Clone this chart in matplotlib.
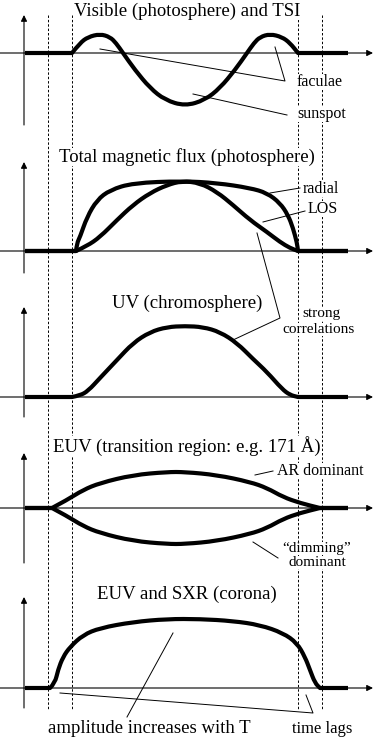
import matplotlib.pyplot as plt
from matplotlib.path import Path
from matplotlib.patches import PathPatch

plt.rcParams['font.family'] = ['Liberation Serif', 'DejaVu Serif']

# time coordinate shared by all panels; amplitude above each panel's zero line
vis_t = [72, 80, 88, 100, 110, 116, 123, 135, 150, 165, 185, 205, 220, 235, 247, 254, 260, 270, 282, 290, 298]
vis_a = [0, 10, 16, 19, 16, 10, 0, -17, -35, -47, -53, -47, -35, -17, 0, 10, 16, 19, 16, 10, 0]

radial_t = [76, 77, 80, 87, 97, 110, 133, 182, 217, 250, 267, 280, 288, 293, 297, 298]
radial_a = [0, 8, 14, 34, 51, 61, 68, 70, 68, 63, 58, 48, 36, 23, 8, 0]
los_t = [76, 87, 100, 117, 133, 150, 167, 182, 200, 217, 233, 250, 267, 280, 290, 298]
los_a = [0, 5, 14, 31, 46, 58, 66, 70, 68, 59, 46, 31, 19, 9, 3, 0]

uv_t = [72, 80, 88, 100, 117, 133, 150, 167, 185, 203, 220, 237, 253, 267, 282, 290, 298]
uv_a = [0, 1.5, 6, 19, 37, 54, 65, 70, 71, 70, 65, 54, 38, 25, 8, 2, 0]

tr_t = [52, 67, 83, 100, 133, 167, 185, 217, 250, 267, 283, 300, 320]
tr_a = [0, 8, 18, 25, 33, 36, 36, 33, 26, 20, 11, 5, 0]

cor_t = [50, 55, 58, 63, 70, 83, 100, 133, 167, 200, 233, 260, 283, 297, 305, 310, 315, 320]
cor_a = [0, 5, 18, 31, 41, 53, 60, 66, 69, 69, 67, 63, 55, 45, 31, 18, 5, 0]

titles = ['Visible (photosphere) and TSI',
          'Total magnetic flux (photosphere)',
          'UV (chromosphere)',
          'EUV (transition region: e.g. 171 Å)',
          'EUV and SXR (corona)']

# panel layout (pixels)
zero_y = [53, 251, 397, 508, 688]
axis_top = [15, 162, 307, 453, 597]
axis_bot = [125, 273, 417, 563, 708]
title_y = [15.5, 162, 308, 452, 599]
dash_x = [48, 72, 298, 322]
t_start, t_end = 25, 348

fig = plt.figure(figsize=(3.74, 7.42), dpi=100)
ax = fig.add_axes([0, 0, 1, 1])
ax.set_xlim(0, 374)
ax.set_ylim(742, 0)
ax.axis('off')

box = dict(facecolor='white', edgecolor='none', pad=0)

for x in dash_x:
    ax.plot([x, x], [15, 709], color='black', lw=0.7, ls=(0, (2.5, 2)), zorder=0)

for i in range(5):
    y0 = zero_y[i]
    ax.annotate('', xy=(373, y0), xytext=(0, y0),
                arrowprops=dict(arrowstyle='-|>', lw=0.8, color='black',
                                mutation_scale=9, shrinkA=0, shrinkB=0), zorder=1)
    ax.annotate('', xy=(24, axis_top[i]), xytext=(24, axis_bot[i]),
                arrowprops=dict(arrowstyle='-|>', lw=0.8, color='black',
                                mutation_scale=9, shrinkA=0, shrinkB=0), zorder=1)
    ax.text(187, title_y[i], titles[i], ha='center', va='baseline', fontsize=13.5,
            bbox=box, zorder=2)


def curve(t, a, y0, sign=1):
    # thick zero line, then the read points joined by smooth quadratic pieces
    pts = [(x, y0 - sign * v) for x, v in zip(t, a)]
    verts = [(t_start, y0), pts[0]]
    codes = [Path.MOVETO, Path.LINETO]
    for k in range(1, len(pts) - 1):
        mid = ((pts[k][0] + pts[k + 1][0]) / 2, (pts[k][1] + pts[k + 1][1]) / 2)
        verts += [pts[k], mid]
        codes += [Path.CURVE3, Path.CURVE3]
    verts += [pts[-1], (t_end, y0)]
    codes += [Path.LINETO, Path.LINETO]
    ax.add_patch(PathPatch(Path(verts, codes), facecolor='none', edgecolor='black',
                           lw=3.0, joinstyle='round', capstyle='butt', zorder=3))


curve(vis_t, vis_a, zero_y[0])
curve(radial_t, radial_a, zero_y[1])
curve(los_t, los_a, zero_y[1])
curve(uv_t, uv_a, zero_y[2])
curve(tr_t, tr_a, zero_y[3])
curve(tr_t, tr_a, zero_y[3], sign=-1)
curve(cor_t, cor_a, zero_y[4])


def leader(xs, ys):
    ax.plot(xs, ys, color='black', lw=0.7, zorder=4)


def label(x, y, s, ha='left', size=11.5):
    ax.text(x, y, s, ha=ha, va='baseline', fontsize=size, bbox=box, zorder=2)


leader([100, 285, 275], [49, 81, 47])
label(297, 86, 'faculae')
leader([193, 287], [94, 115])
label(297, 118, 'sunspot')

leader([270, 300], [193, 188])
label(303, 193, 'radial')
leader([263, 305], [222, 211])
label(308, 213, 'LOS')

leader([257, 280, 233], [233, 318, 340])
label(321, 317, 'strong', 'center', 11)
label(319, 333, 'correlations', 'center', 11)

leader([255, 273], [475, 471])
label(277, 475, 'AR dominant')
leader([253, 278], [542, 558])
label(317, 552, '\u201cdimming\u201d', 'center', 11)
label(317, 566, 'dominant', 'center', 11)

leader([173, 127], [633, 717])
leader([60, 313, 306], [693, 713, 695])
label(149, 733, 'amplitude increases with T', 'center', 13.5)
label(322.5, 733, 'time lags', 'center', 11.9)

fig.savefig('out.png', dpi=100)
